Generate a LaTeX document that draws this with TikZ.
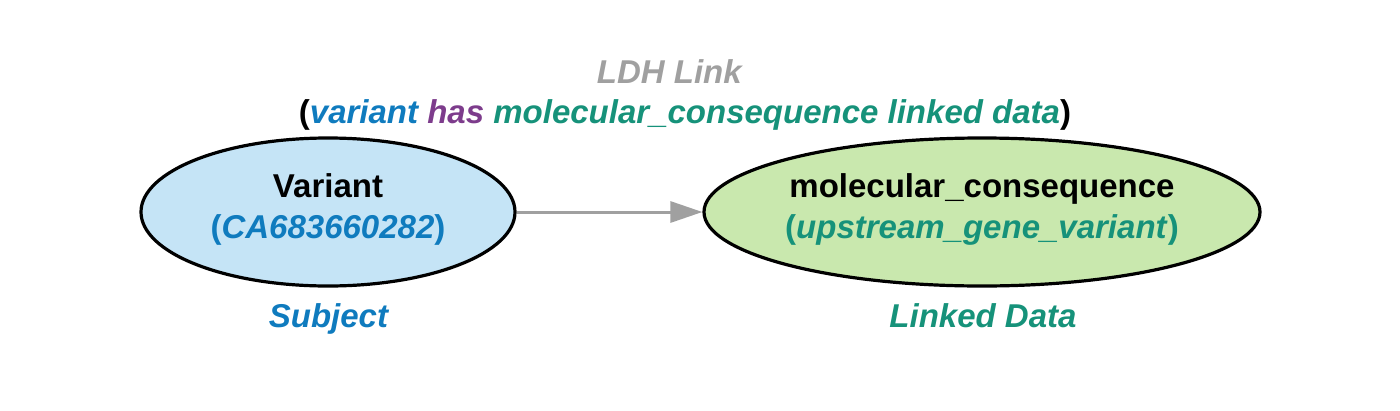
\documentclass[tikz,border=0pt]{standalone}
\usepackage{fontspec}
\setmainfont{Liberation Sans}
\usetikzlibrary{arrows.meta,shapes.geometric}
\definecolor{cblue}{HTML}{0F7BBE}
\definecolor{cpurple}{HTML}{7D3C8C}
\definecolor{cgreen}{HTML}{16927A}
\definecolor{cgray}{HTML}{A0A0A0}
\definecolor{fblue}{HTML}{C5E4F6}
\definecolor{fgreen}{HTML}{C9E8AE}
\tikzset{
  ell/.style={ellipse, draw=black, line width=3.2pt, inner sep=0pt},
  txt/.style={font=\fontsize{33}{39}\selectfont\bfseries, anchor=base, inner sep=0pt},
  link/.style={draw=cgray, line width=3pt, -{Triangle[length=32pt,width=21pt]}}
}
\begin{document}
\begin{tikzpicture}[x=1pt,y=1pt]
\useasboundingbox (0,0) rectangle (1400,-410);
\node[ell, fill=fblue, minimum width=374pt, minimum height=148pt] (subj) at (328,-212) {};
\node[ell, fill=fgreen, minimum width=556pt, minimum height=148pt] (obj) at (982,-212) {};
\draw[link] (subj.east) -- (obj.west);
\node[txt] (vname) at (328,-197) {Variant};
\node[txt, text=cblue] (vid) at (328,-238) {(\textit{CA683660282})};
\node[txt, text=black] (oname) at (982,-197) {molecular\_consequence};
\node[txt, text=cgreen] (oid) at (982,-238) {(\textit{upstream\_gene\_variant})};
\node[txt, text=cblue] (sublab) at (329,-327) {\textit{Subject}};
\node[txt, text=cgreen] (ldlab) at (983,-327) {\textit{Linked Data}};
\node[txt, text=cgray] (title) at (670,-83) {\textit{LDH Link}};
\node[txt] (desc) at (685,-123) {(\textit{\textcolor{cblue}{variant} \textcolor{cpurple}{has} \textcolor{cgreen}{molecular\_consequence linked data}})};
\end{tikzpicture}
\end{document}
